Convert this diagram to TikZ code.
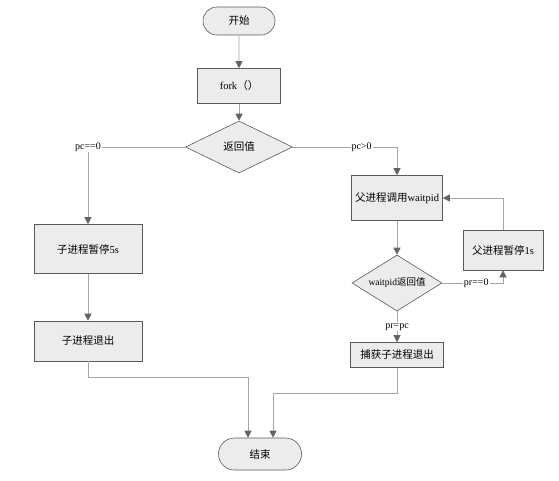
\documentclass[tikz,border=0pt]{standalone}
\usepackage{fontspec}
\setmainfont{Liberation Serif}
\newfontfamily\cjk{Noto Sans CJK SC}
\usepackage{tikz}
\usetikzlibrary{positioning,arrows.meta,shapes.geometric,shapes.misc}
\usepackage{xcolor}
\definecolor{boxfill}{RGB}{236,236,236}
\definecolor{boxline}{RGB}{90,90,90}
\definecolor{wire}{RGB}{165,165,165}
\definecolor{tipgray}{RGB}{100,100,100}

\begin{document}
\begin{tikzpicture}[x=1pt,y=-1pt,>={Triangle[length=7pt,width=7pt,color=tipgray]},
  every node/.style={font=\fontsize{10.5}{12}\selectfont},
  box/.style={draw=boxline,fill=boxfill,line width=0.6pt,inner sep=1pt},
  term/.style={rounded rectangle,draw=boxline,fill=boxfill,line width=0.6pt,inner sep=1pt},
  decide/.style={diamond,aspect=1.6,draw=boxline,fill=boxfill,line width=0.6pt,inner sep=1pt},
  line/.style={draw=wire,line width=0.6pt},
  lab/.style={fill=white,inner sep=1pt,font=\fontsize{10}{11}\selectfont}]
\useasboundingbox (0,0) rectangle (559,480);
\node[term,minimum width=74,minimum height=28] (start) at (239,21) {\cjk 开始};
\node[box,minimum width=83,minimum height=35] (fork) at (239,86) {fork{\cjk （）}};
\node[decide,minimum width=107,minimum height=52] (ret) at (239,147) {\cjk 返回值};
\node[box,minimum width=108,minimum height=49] (csleep) at (88,249) {{\cjk 子进程暂停}5s};
\node[box,minimum width=108,minimum height=40] (cexit) at (88,341) {\cjk 子进程退出};
\node[box,minimum width=91,minimum height=45] (pwait) at (397,198) {{\cjk 父进程调用}waitpid};
\node[decide,minimum width=90,minimum height=56,font=\fontsize{9.5}{11}\selectfont] (wres) at (397,283) {waitpid{\cjk 返回值}};
\node[box,minimum width=80,minimum height=40] (psleep) at (503,250) {{\cjk 父进程暂停}1s};
\node[box,minimum width=93,minimum height=25] (catch) at (397,355) {\cjk 捕获子进程退出};
\node[term,minimum width=85,minimum height=32] (stop) at (260,454) {\cjk 结束};
% main column
\draw[line,->] (start) -- (fork);
\draw[line,->] (fork) -- (ret);
\draw[line,->] (ret.west) -| node[lab,pos=0.5]{pc==0} (csleep.north);
\draw[line,->] (ret.east) -| node[lab,pos=0.33]{pc>0} (pwait.north);
\draw[line,->] (csleep) -- (cexit);
\draw[line,->] (pwait) -- (wres);
\draw[line,->] (wres.east) -| node[lab,pos=0.28]{pr==0} (psleep.south);
\draw[line,->] (psleep.north) |- (pwait.east);
\draw[line,->] (wres) -- node[lab]{pr=pc} (catch);
% to the end
\draw[line,->] (cexit.south) -- ++(0,16) -| ([xshift=-12pt]stop.north);
\draw[line,->] (catch.south) -- ++(0,25) -| ([xshift=13pt]stop.north);
\end{tikzpicture}
\end{document}
